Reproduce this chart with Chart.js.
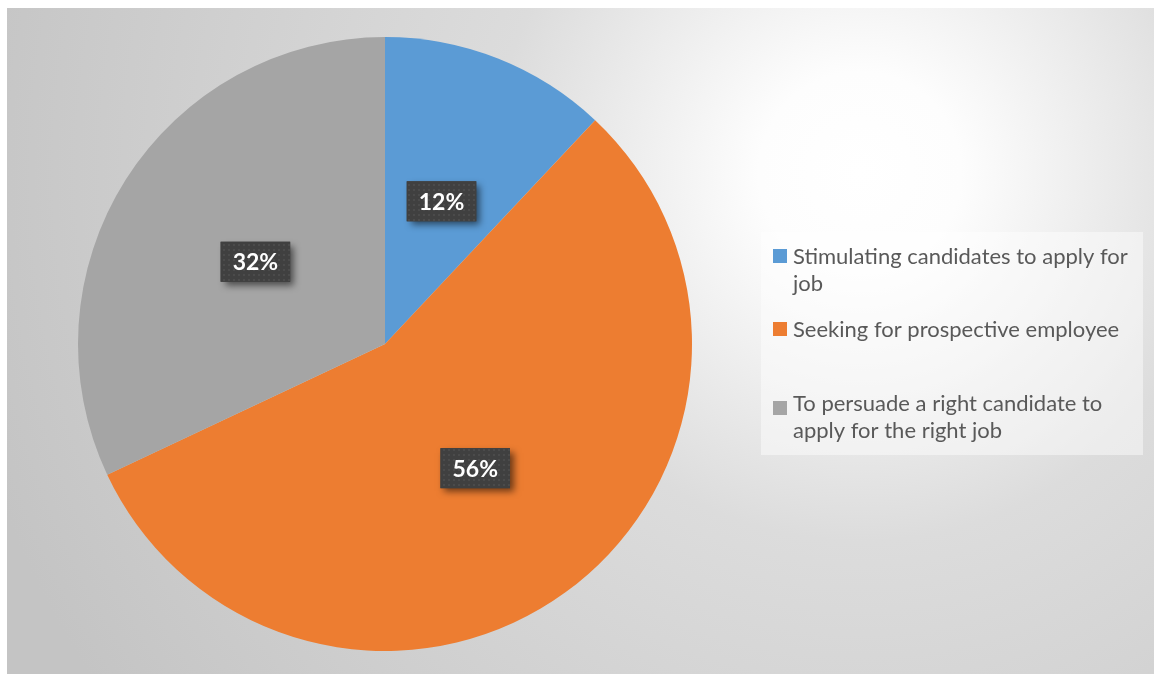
<!DOCTYPE html>
<html>
<head>
<meta charset="utf-8">
<script src="https://cdn.jsdelivr.net/npm/chart.js@4/dist/chart.umd.min.js"></script>
<style>
  html, body { margin: 0; padding: 0; background: #fff; }
  #wrap {
    position: absolute; left: 7px; top: 8px; width: 1147px; height: 666px;
    background: radial-gradient(circle 920px at 853px 165px, #ffffff 0%, #fdfdfd 11%, #dcdcdc 40%, #c4c4c4 100%);
  }
</style>
</head>
<body>
<div id="wrap"><canvas id="pieChart"></canvas></div>
<script>
// --- Data ---
const categories = [
    'Stimulating candidates to apply for job',
    'Seeking for prospective employee',
    'To persuade a right candidate to apply for the right job'
];
const shares = [12, 56, 32];
const sliceColors = ['#5b9bd5', '#ed7d31', '#a5a5a5'];

// dotted fill for the value boxes
function makeDotPattern(ctx) {
    const p = document.createElement('canvas');
    p.width = 5; p.height = 5;
    const pc = p.getContext('2d');
    pc.fillStyle = '#404040';
    pc.fillRect(0, 0, 5, 5);
    pc.fillStyle = '#4b4b4b';
    pc.fillRect(1, 1, 2, 2);
    return ctx.createPattern(p, 'repeat');
}

// value labels in dark boxes, placed at each slice's centre point
const valueBoxes = {
    id: 'valueBoxes',
    afterDatasetsDraw(chart) {
        const ctx = chart.ctx;
        const meta = chart.getDatasetMeta(0);
        const data = chart.data.datasets[0].data;
        const total = data.reduce((a, b) => a + b, 0);
        const pattern = makeDotPattern(ctx);
        ctx.save();
        ctx.font = 'bold 23px Lato';
        ctx.textAlign = 'center';
        ctx.textBaseline = 'middle';
        meta.data.forEach((arc, i) => {
            const pos = arc.tooltipPosition();
            const txt = Math.round(data[i] / total * 100) + '%';
            const w = ctx.measureText(txt).width + 24;
            const h = 40;
            const x = pos.x - w / 2, y = pos.y - h / 2;
            ctx.save();
            ctx.shadowColor = 'rgba(0,0,0,0.55)';
            ctx.shadowBlur = 7;
            ctx.shadowOffsetX = 4;
            ctx.shadowOffsetY = 4;
            ctx.fillStyle = '#404040';
            ctx.fillRect(x, y, w, h);
            ctx.restore();
            ctx.fillStyle = pattern;
            ctx.fillRect(x, y, w, h);
            ctx.fillStyle = '#ffffff';
            ctx.fillText(txt, pos.x, pos.y + 1);
        });
        ctx.restore();
    }
};

// legend box on the right, with wrapped entries
const sideLegend = {
    id: 'sideLegend',
    afterDraw(chart) {
        const ctx = chart.ctx;
        const labels = chart.data.labels;
        const colors = chart.data.datasets[0].backgroundColor;
        const box = { x: 754, y: 224, w: 382, h: 223 };
        const markerTops = [241, 314, 393];
        const firstBaselines = [256, 329, 403];
        const lineGap = 27;
        const maxW = 350;
        ctx.save();
        ctx.fillStyle = 'rgba(255,255,255,0.45)';
        ctx.fillRect(box.x, box.y, box.w, box.h);
        ctx.font = '22px Lato';
        ctx.textBaseline = 'alphabetic';
        labels.forEach((label, i) => {
            ctx.fillStyle = colors[i];
            ctx.fillRect(766, markerTops[i], 14, 14);
            // simple word wrap
            const words = label.split(' ');
            const lines = [];
            let cur = '';
            words.forEach(wd => {
                const test = cur ? cur + ' ' + wd : wd;
                if (ctx.measureText(test).width > maxW && cur) {
                    lines.push(cur);
                    cur = wd;
                } else {
                    cur = test;
                }
            });
            lines.push(cur);
            ctx.fillStyle = '#595959';
            lines.forEach((ln, j) => ctx.fillText(ln, 786, firstBaselines[i] + j * lineGap));
        });
        ctx.restore();
    }
};

new Chart(document.getElementById('pieChart'), {
    type: 'pie',
    data: {
        labels: categories,
        datasets: [{
            data: shares,
            backgroundColor: sliceColors,
            borderWidth: 0
        }]
    },
    options: {
        responsive: true,
        maintainAspectRatio: false,
        animation: false,
        layout: { padding: { left: 71, top: 29, right: 462, bottom: 23 } },
        plugins: {
            legend: { display: false },
            tooltip: { enabled: false }
        }
    },
    plugins: [valueBoxes, sideLegend]
});
</script>
</body>
</html>
